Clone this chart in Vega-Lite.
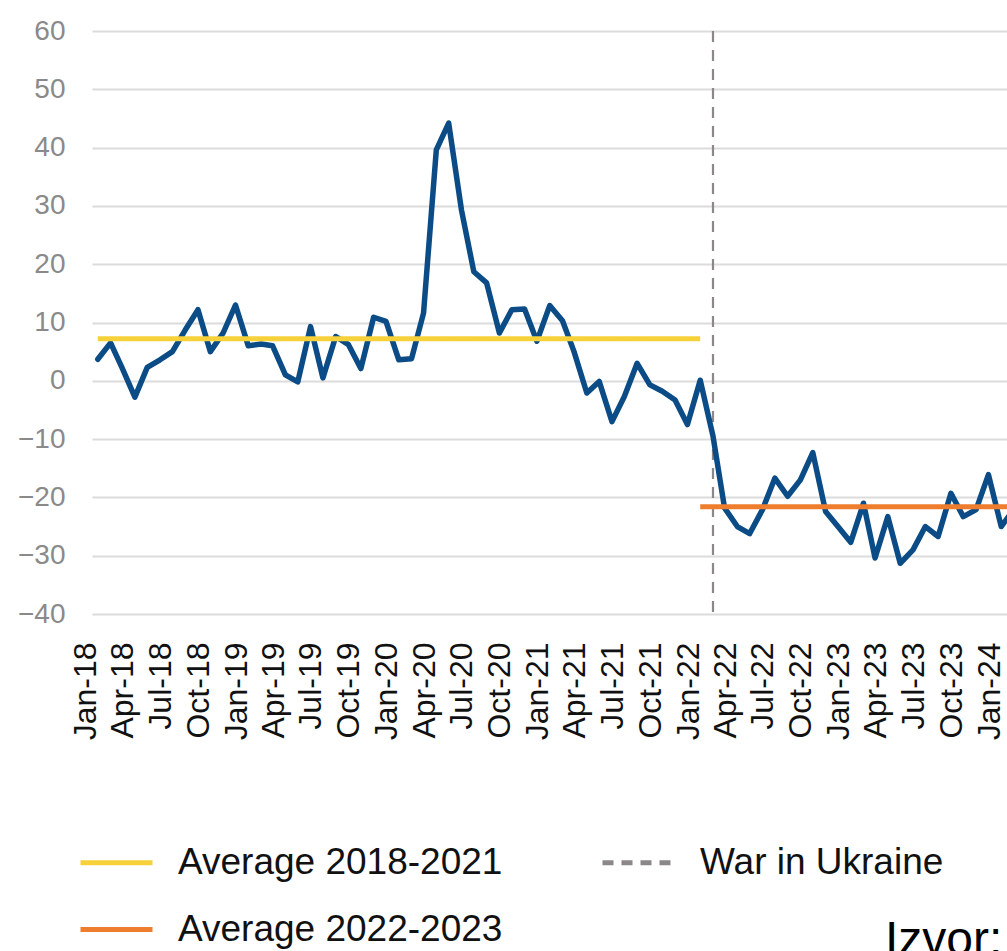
{
  "$schema": "https://vega.github.io/schema/vega-lite/v6.json",
  "width": 915,
  "height": 583,
  "autosize": {"type": "none"},
  "padding": {"left": 92, "top": 31, "right": 0, "bottom": 337},
  "background": "white",
  "config": {
    "view": {"stroke": null},
    "font": "Liberation Sans"
  },
  "title": {
    "text": "Izvor:",
    "orient": "top",
    "anchor": "start",
    "frame": "group",
    "align": "left",
    "baseline": "top",
    "dx": 793,
    "dy": 948,
    "offset": 0,
    "font": "Liberation Sans",
    "fontSize": 48,
    "fontWeight": "normal",
    "color": "#000000"
  },
  "datasets": {
    "series": [
      {"date": "2018-01-01", "value": 3.7},
      {"date": "2018-02-01", "value": 6.5},
      {"date": "2018-03-01", "value": 2.2},
      {"date": "2018-04-01", "value": -2.8},
      {"date": "2018-05-01", "value": 2.3},
      {"date": "2018-06-01", "value": 3.6},
      {"date": "2018-07-01", "value": 5.0},
      {"date": "2018-08-01", "value": 8.7},
      {"date": "2018-09-01", "value": 12.2},
      {"date": "2018-10-01", "value": 5.0},
      {"date": "2018-11-01", "value": 8.2},
      {"date": "2018-12-01", "value": 13.0},
      {"date": "2019-01-01", "value": 6.0},
      {"date": "2019-02-01", "value": 6.3},
      {"date": "2019-03-01", "value": 6.0},
      {"date": "2019-04-01", "value": 1.0},
      {"date": "2019-05-01", "value": -0.2},
      {"date": "2019-06-01", "value": 9.3},
      {"date": "2019-07-01", "value": 0.5},
      {"date": "2019-08-01", "value": 7.6},
      {"date": "2019-09-01", "value": 6.2},
      {"date": "2019-10-01", "value": 2.1},
      {"date": "2019-11-01", "value": 10.9},
      {"date": "2019-12-01", "value": 10.2},
      {"date": "2020-01-01", "value": 3.6},
      {"date": "2020-02-01", "value": 3.8},
      {"date": "2020-03-01", "value": 11.6},
      {"date": "2020-04-01", "value": 39.6},
      {"date": "2020-05-01", "value": 44.2},
      {"date": "2020-06-01", "value": 29.3},
      {"date": "2020-07-01", "value": 18.7},
      {"date": "2020-08-01", "value": 16.8},
      {"date": "2020-09-01", "value": 8.2},
      {"date": "2020-10-01", "value": 12.2},
      {"date": "2020-11-01", "value": 12.3},
      {"date": "2020-12-01", "value": 6.8},
      {"date": "2021-01-01", "value": 12.9},
      {"date": "2021-02-01", "value": 10.3},
      {"date": "2021-03-01", "value": 5.0},
      {"date": "2021-04-01", "value": -2.1},
      {"date": "2021-05-01", "value": -0.1},
      {"date": "2021-06-01", "value": -7.0},
      {"date": "2021-07-01", "value": -2.7},
      {"date": "2021-08-01", "value": 3.0},
      {"date": "2021-09-01", "value": -0.7},
      {"date": "2021-10-01", "value": -1.8},
      {"date": "2021-11-01", "value": -3.3},
      {"date": "2021-12-01", "value": -7.5},
      {"date": "2022-01-01", "value": 0.1},
      {"date": "2022-02-01", "value": -9.5},
      {"date": "2022-03-01", "value": -21.8},
      {"date": "2022-04-01", "value": -25.0},
      {"date": "2022-05-01", "value": -26.2},
      {"date": "2022-06-01", "value": -22.1},
      {"date": "2022-07-01", "value": -16.7},
      {"date": "2022-08-01", "value": -19.8},
      {"date": "2022-09-01", "value": -17.0},
      {"date": "2022-10-01", "value": -12.3},
      {"date": "2022-11-01", "value": -22.4},
      {"date": "2022-12-01", "value": -25.0},
      {"date": "2023-01-01", "value": -27.7},
      {"date": "2023-02-01", "value": -21.0},
      {"date": "2023-03-01", "value": -30.4},
      {"date": "2023-04-01", "value": -23.3},
      {"date": "2023-05-01", "value": -31.3},
      {"date": "2023-06-01", "value": -29.0},
      {"date": "2023-07-01", "value": -25.0},
      {"date": "2023-08-01", "value": -26.7},
      {"date": "2023-09-01", "value": -19.3},
      {"date": "2023-10-01", "value": -23.3},
      {"date": "2023-11-01", "value": -22.1},
      {"date": "2023-12-01", "value": -16.1},
      {"date": "2024-01-01", "value": -25.0},
      {"date": "2024-02-01", "value": -22.0}
    ],
    "averages": [
      {"series": "Average 2018-2021", "start": "2018-01-01", "end": "2022-01-01", "value": 7.2},
      {"series": "Average 2022-2023", "start": "2022-01-01", "end": "2024-02-01", "value": -21.6}
    ],
    "events": [
      {"series": "War in Ukraine", "date": "2022-02-01"}
    ]
  },
  "layer": [
    {
      "data": {"name": "events"},
      "mark": {"type": "rule", "strokeWidth": 2.2, "clip": true},
      "encoding": {
        "x": {
          "field": "date",
          "type": "temporal",
          "scale": {"type": "utc", "domain": ["2017-12-18", "2024-01-15"]},
          "axis": {
            "title": null,
            "format": "%b-%y",
            "tickCount": {"interval": "month", "step": 3},
            "labelAngle": 270,
            "labelAlign": "right",
            "labelBaseline": "middle",
            "labelOffset": -12,
            "labelPadding": 28,
            "labelFont": "Liberation Sans",
            "labelFontSize": 32,
            "labelColor": "#111111",
            "labelOverlap": false,
            "labelFlush": false,
            "labelBound": false,
            "ticks": false,
            "domain": false,
            "grid": false
          }
        },
        "color": {
          "field": "series",
          "type": "nominal",
          "scale": {
            "domain": ["Average 2018-2021", "War in Ukraine", "Average 2022-2023"],
            "range": ["#f6d13a", "#8c8888", "#ef7d2e"]
          },
          "legend": {
            "title": null,
            "orient": "none",
            "legendX": -14,
            "legendY": 793,
            "direction": "horizontal",
            "columns": 2,
            "columnPadding": 89,
            "rowPadding": 10,
            "padding": 0,
            "symbolType": "stroke",
            "symbolSize": 5184,
            "symbolStrokeWidth": 5,
            "labelOffset": 23,
            "labelFont": "Liberation Sans",
            "labelFontSize": 37,
            "labelColor": "#111111",
            "labelLimit": 500
          }
        },
        "strokeDash": {
          "field": "series",
          "type": "nominal",
          "scale": {
            "domain": ["Average 2018-2021", "War in Ukraine", "Average 2022-2023"],
            "range": [[1, 0], [11, 8], [1, 0]]
          },
          "legend": {
            "title": null,
            "orient": "none",
            "legendX": -14,
            "legendY": 793,
            "direction": "horizontal",
            "columns": 2,
            "columnPadding": 89,
            "rowPadding": 10,
            "padding": 0,
            "symbolType": "stroke",
            "symbolSize": 5184,
            "symbolStrokeWidth": 5,
            "labelOffset": 23,
            "labelFont": "Liberation Sans",
            "labelFontSize": 37,
            "labelColor": "#111111",
            "labelLimit": 500
          }
        }
      }
    },
    {
      "data": {"name": "series"},
      "mark": {"type": "line", "color": "#0b4c86", "strokeWidth": 5.5, "strokeJoin": "round", "strokeCap": "round", "clip": true},
      "encoding": {
        "x": {"field": "date", "type": "temporal"},
        "y": {
          "field": "value",
          "type": "quantitative",
          "scale": {"domain": [-40, 60], "nice": false, "zero": false},
          "axis": {
            "title": null,
            "values": [-40, -30, -20, -10, 0, 10, 20, 30, 40, 50, 60],
            "labelFont": "Liberation Sans",
            "labelFontSize": 28,
            "labelColor": "#8a8a8a",
            "labelPadding": 27,
            "ticks": false,
            "domain": false,
            "grid": true,
            "gridColor": "#dcdcdc",
            "gridWidth": 2
          }
        }
      }
    },
    {
      "data": {"name": "averages"},
      "mark": {"type": "rule", "strokeWidth": 5, "clip": true},
      "encoding": {
        "x": {"field": "start", "type": "temporal"},
        "x2": {"field": "end"},
        "y": {"field": "value", "type": "quantitative"},
        "color": {"field": "series", "type": "nominal"},
        "strokeDash": {"field": "series", "type": "nominal"}
      }
    }
  ]
}
